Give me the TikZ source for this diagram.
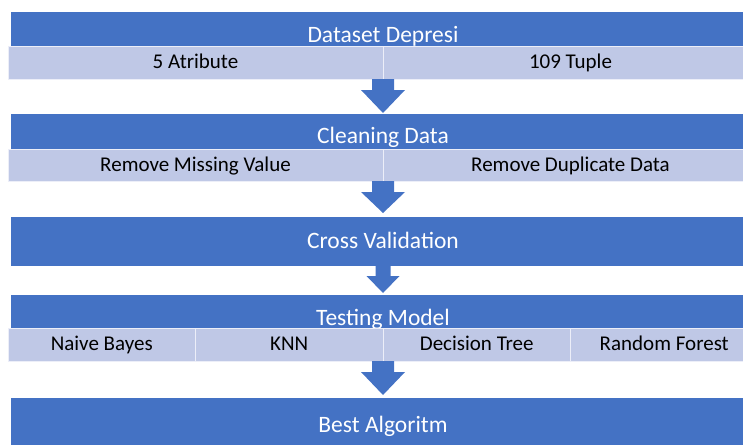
\documentclass[tikz,border=0pt]{standalone}
\usepackage{fontspec}
\setmainfont{Carlito}
\usepackage{xcolor}
\usepackage{tikz}
\usetikzlibrary{calc}
\usetikzlibrary{positioning}
\definecolor{BarBlue}{HTML}{4472C4}
\definecolor{BarLight}{HTML}{BFC8E6}

\begin{document}
\begin{tikzpicture}[x = 1pt, y = -1pt,
    bar/.style = {fill = BarBlue, minimum width = 744pt, inner sep = 0pt, outer sep = 0pt},
    cell/.style = {fill = BarLight, draw = white!70!BarLight, line width = .8pt,
      inner sep = 0pt, outer sep = 0pt, text height = 14pt, text depth = 2pt,
      font = \fontsize{21}{25}\selectfont},
    title/.style = {anchor = base, text = white, inner sep = 0pt,
      font = \fontsize{23.5}{28}\selectfont}]
  \clip (0,0) rectangle (743,444);

  \node[bar, minimum height = 34pt] (b1) at (383,29) {};
  \node[bar, minimum height = 35pt] (b2) at (383,131.5) {};
  \node[bar, minimum height = 49pt] (b3) at (383,241.5) {};
  \node[bar, minimum height = 33pt] (b4) at (383,311.5) {};
  \node[bar, minimum height = 49pt] (b5) at (383,422.5) {};

  \node[title] (t1) at (383,42) {Dataset Depresi};
  \node[title] (t2) at (383,143) {Cleaning Data};
  \node[title] (t3) at (383,248) {Cross Validation};
  \node[title] (t4) at (383,325) {Testing Model};
  \node[title] (t5) at (383,432) {Best Algoritm};

  \node[cell, minimum width = 375pt, minimum height = 33pt] (l1a) at (195.5,62.5) {5 Atribute};
  \node[cell, minimum width = 375pt, minimum height = 33pt, right = 0pt of l1a] (l1b) {109 Tuple};

  \node[cell, minimum width = 375pt, minimum height = 32pt] (l2a) at (195.5,165) {Remove Missing Value};
  \node[cell, minimum width = 375pt, minimum height = 32pt, right = 0pt of l2a] (l2b) {Remove Duplicate Data};

  \node[cell, minimum width = 187.5pt, minimum height = 33pt] (l4a) at (101.75,344.5) {Naive Bayes};
  \node[cell, minimum width = 187.5pt, minimum height = 33pt, right = 0pt of l4a] (l4b) {KNN};
  \node[cell, minimum width = 187.5pt, minimum height = 33pt, right = 0pt of l4b] (l4c) {Decision Tree};
  \node[cell, minimum width = 187.5pt, minimum height = 33pt, right = 0pt of l4c] (l4d) {Random Forest};

  \fill[BarBlue] ($(l1a.south east)+(-11,0)$) -- ++(22,0) -- ++(0,11) -- ++(11,0)
    -- ($(b2.north)+(0,-1)$) -- ++(-22,-23) -- ++(11,0) -- cycle;

  \fill[BarBlue] ($(l2a.south east)+(-11,0)$) -- ++(22,0) -- ++(0,11) -- ++(11,0)
    -- ($(b3.north)+(0,-4)$) -- ++(-22,-21) -- ++(11,0) -- cycle;

  \fill[BarBlue] ($(b3.south)+(-7.5,0)$) -- ++(15,0) -- ++(0,10) -- ++(9,0)
    -- ($(b4.north)+(0,-2)$) -- ++(-16.5,-17) -- ++(9,0) -- cycle;

  \fill[BarBlue] ($(l4b.south east)+(-11,0)$) -- ++(22,0) -- ++(0,11) -- ++(11,0)
    -- ($(b5.north)+(0,-3)$) -- ++(-22,-23) -- ++(11,0) -- cycle;
\end{tikzpicture}
\end{document}
